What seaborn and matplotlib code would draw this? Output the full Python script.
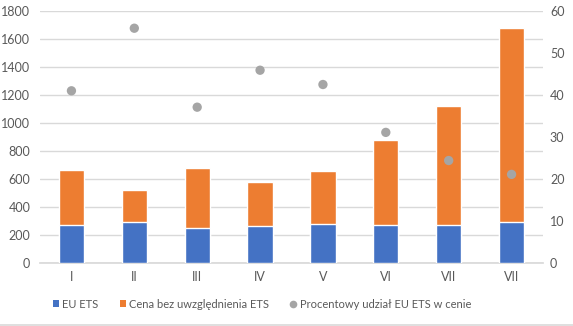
import matplotlib
matplotlib.use("Agg")
import matplotlib.pyplot as plt
import seaborn as sns
import numpy as np
import pandas as pd
from matplotlib.lines import Line2D
from matplotlib.patches import Patch

categories = ["I", "II", "III", "IV", "V", "VI", "VII", "VII"]
eu_ets = [271, 295, 250, 264, 278, 271, 271, 295]
cena_bez_ets = [393, 226, 428, 314, 379, 607, 850, 1383]
procent_udzial = [41.0, 55.9, 37.1, 45.9, 42.5, 31.1, 24.4, 21.1]

BLUE = "#4472C4"
ORANGE = "#ED7D31"
GRAY = "#A5A5A5"
TXT = "#595959"
GRID = "#D9D9D9"

sns.set_theme(style="white")
plt.rcParams["font.family"] = ["Lato", "DejaVu Sans"]

pos = list(range(len(categories)))
df = pd.DataFrame({
    "pos": pos,
    "eu": eu_ets,
    "total": np.array(eu_ets) + np.array(cena_bez_ets),
    "pct": procent_udzial,
})

fig = plt.figure(figsize=(5.73, 3.26), dpi=100)
ax = fig.add_axes([40 / 573, 1 - 263 / 326, 503 / 573, 252 / 326])

sns.barplot(data=df, x="pos", y="total", color=ORANGE, width=0.4,
            saturation=1, ax=ax, zorder=2)
sns.barplot(data=df, x="pos", y="eu", color=BLUE, width=0.4,
            saturation=1, ax=ax, zorder=3)

ax.set_ylim(0, 1800)
ax.set_yticks(range(0, 1801, 200))
ax.set_xlim(-0.5, len(categories) - 0.5)
ax.set_xticks(pos)
ax.set_xticklabels(categories)
ax.yaxis.grid(True, color=GRID, linewidth=1)
ax.set_axisbelow(True)
for s in ["top", "right", "left"]:
    ax.spines[s].set_visible(False)
ax.spines["bottom"].set_color(GRID)
ax.set_xlabel("")
ax.set_ylabel("")
ax.tick_params(axis="both", colors=TXT, labelsize=9, length=0)
ax.tick_params(axis="x", pad=6)
ax.tick_params(axis="y", pad=7)

ax2 = ax.twinx()
sns.scatterplot(data=df, x="pos", y="pct", color=GRAY, s=45,
                edgecolor="none", ax=ax2, zorder=4, legend=False)
ax2.set_ylim(0, 60)
ax2.set_yticks(range(0, 61, 10))
ax2.set_xlim(-0.5, len(categories) - 0.5)
for s in ["top", "right", "left", "bottom"]:
    ax2.spines[s].set_visible(False)
ax2.set_ylabel("")
ax2.tick_params(axis="y", colors=TXT, labelsize=9, length=0, pad=5)

handles = [
    Patch(facecolor=BLUE, edgecolor="none"),
    Patch(facecolor=ORANGE, edgecolor="none"),
    Line2D([0], [0], marker="o", linestyle="none", markerfacecolor=GRAY,
           markeredgecolor="none", markersize=5.5),
]
labels = ["EU ETS", "Cena bez uwzględnienia ETS", "Procentowy udział EU ETS w cenie"]
leg = fig.legend(handles, labels, loc="center", bbox_to_anchor=(262 / 573, 1 - 304 / 326),
                 ncol=3, frameon=False, fontsize=8, handlelength=0.55,
                 handleheight=0.55, handletextpad=0.3, columnspacing=1.9)
for t in leg.get_texts():
    t.set_color(TXT)

fig.add_artist(Line2D([0, 1], [1.5 / 326, 1.5 / 326], color=GRID, linewidth=1.2,
                      transform=fig.transFigure))

fig.savefig("out.png", dpi=100)
